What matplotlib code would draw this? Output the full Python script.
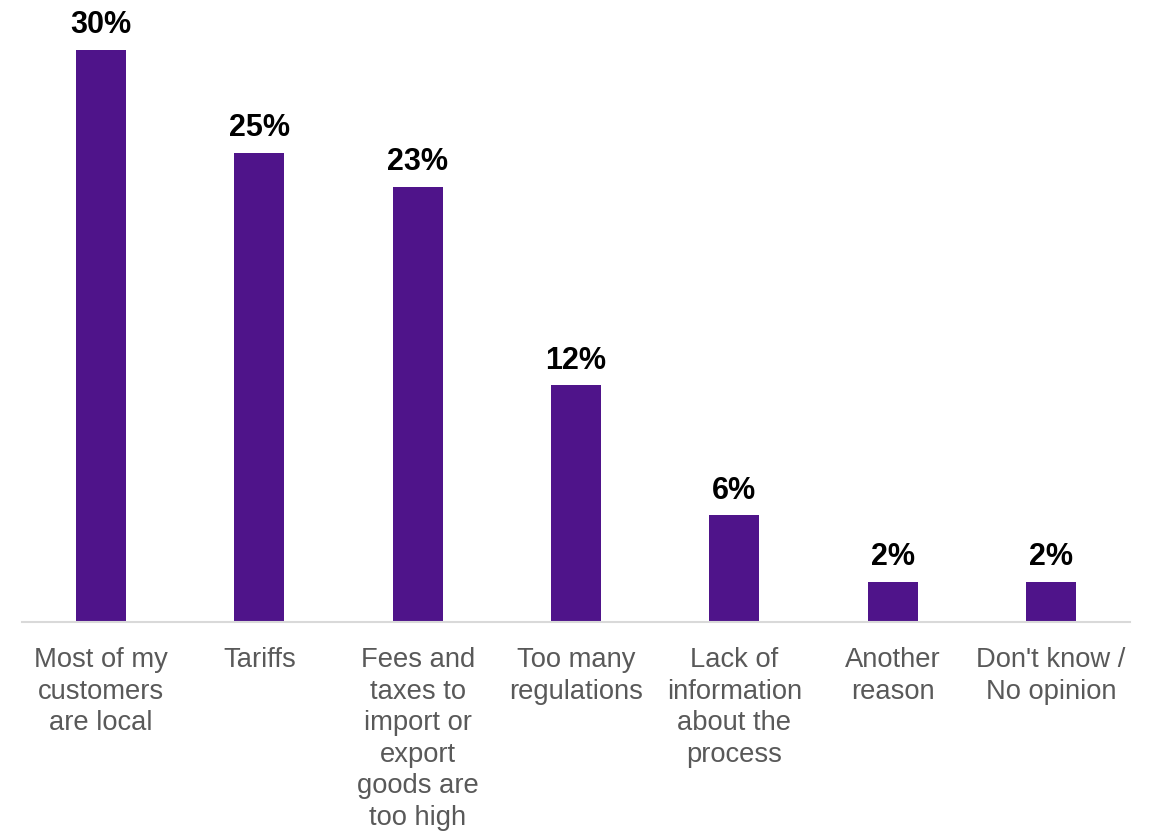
import matplotlib
matplotlib.use("Agg")
import matplotlib.pyplot as plt

plt.rcParams['font.family'] = ['Liberation Sans', 'DejaVu Sans']

# data (bar heights in %)
categories = [
    "Most of my\ncustomers\nare local",
    "Tariffs",
    "Fees and\ntaxes to\nimport or\nexport\ngoods are\ntoo high",
    "Too many\nregulations",
    "Lack of\ninformation\nabout the\nprocess",
    "Another\nreason",
    "Don't know /\nNo opinion",
]
values = [30.0, 24.6, 22.8, 12.4, 5.6, 2.1, 2.1]

bar_color = "#4F148A"
text_color = "#595959"

fig = plt.figure(figsize=(11.5, 8.36), dpi=100)
ax = fig.add_axes([22 / 1150, (836 - 622) / 836, 1108 / 1150, 622 / 836])

x = range(len(categories))
bars = ax.bar(x, values, width=0.316, color=bar_color)

for b, v in zip(bars, values):
    ax.text(b.get_x() + b.get_width() / 2, v + 0.5, f"{v:.0f}%",
            ha='center', va='bottom', fontsize=22, fontweight='bold', color='black')

ax.set_xlim(-0.5, len(categories) - 0.5)
ax.set_ylim(0, 32.6)
ax.set_yticks([])
ax.set_xticks(list(x))
ax.set_xticklabels(categories, fontsize=19.7, color=text_color, linespacing=1.28)
ax.tick_params(axis='x', length=0, pad=18)

for s in ['top', 'left', 'right']:
    ax.spines[s].set_visible(False)
ax.spines['bottom'].set_color('#D9D9D9')
ax.spines['bottom'].set_linewidth(1.5)

fig.savefig("out.png", dpi=100)
